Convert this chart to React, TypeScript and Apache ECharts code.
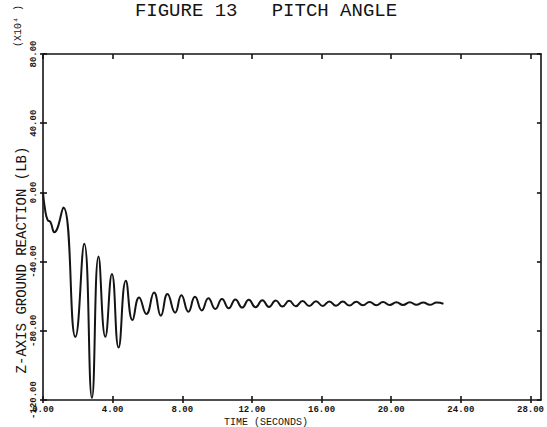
import React, { useEffect, useRef } from "react";
import * as echarts from "echarts";

const TITLE = "FIGURE 13   PITCH ANGLE";
const Y_NAME = "Z-AXIS GROUND REACTION (LB)";
const X_NAME = "TIME (SECONDS)";
const Y_SCALE = "(X10\u2074 )";

const X_TICKS = [0, 4, 8, 12, 16, 20, 24, 28];
const Y_TICKS = [-120, -80, -40, 0, 40, 80];

// Time (s) of each read-off point (extrema of the trace)
const TIME = [
  0.0, 0.12, 0.27, 0.42, 0.65, 1.17, 1.86, 2.37, 2.81, 3.19, 3.58, 3.96, 4.34,
  4.76, 5.14, 5.52, 5.94, 6.38, 6.77, 7.15, 7.59, 7.95, 8.35, 8.73, 9.12, 9.5,
  9.9, 10.28, 10.67, 11.05, 11.44, 11.82, 12.21, 12.6, 12.98, 13.37, 13.75,
  14.14, 14.52, 14.91, 15.29, 15.68, 16.06, 16.45, 16.83, 17.22, 17.6, 17.99,
  18.37, 18.76, 19.14, 19.53, 19.91, 20.3, 20.68, 21.07, 21.45, 21.84, 22.22,
  22.61, 23.0,
];
// Z-axis ground reaction (x10^4 LB)
const REACTION = [
  0, -10, -16, -17, -23, -8.7, -83.5, -29.7, -118.7, -37.1, -83.5, -47.1, -89.7,
  -51, -73.8, -60.7, -70.3, -57.8, -71.3, -58.7, -69.5, -59.5, -69, -60.3,
  -68.2, -61.2, -67.4, -61.6, -67, -61.9, -66.6, -62.1, -66.4, -62.3, -66.2,
  -62.5, -66, -62.7, -65.8, -62.8, -65.7, -62.9, -65.6, -63, -65.5, -63.1,
  -65.4, -63.2, -65.3, -63.3, -65.2, -63.4, -65.1, -63.5, -65.1, -63.5, -65,
  -63.6, -65, -63.7, -64.4,
];

const INK = "#141414";

export default function App() {
  const ref = useRef<HTMLDivElement>(null);
  useEffect(() => {
    if (!ref.current) return;
    const chart = echarts.init(ref.current, undefined, { renderer: "svg" });
    const data = TIME.map((t, i) => [t, REACTION[i]]);
    const lineStyle = { color: INK, width: 1.6 };
    const baseX = { type: "value", min: 0, max: 28.6, splitLine: { show: false } };
    const baseY = { type: "value", min: -120, max: 80, interval: 40, splitLine: { show: false } };
    const option: any = {
      animation: false,
      backgroundColor: "#ffffff",
      grid: { left: 43, right: 4, top: 54, bottom: 27, containLabel: false },
      xAxis: [
        {
          ...baseX,
          position: "bottom",
          axisLine: { show: true, onZero: false, lineStyle },
          axisTick: { show: true, inside: true, length: 4, customValues: X_TICKS, lineStyle },
          axisLabel: {
            show: true,
            customValues: X_TICKS,
            formatter: (v: number) => v.toFixed(2),
            margin: 5,
            fontFamily: "Liberation Mono",
            fontWeight: "bold",
            fontSize: 9,
            color: INK,
          },
        },
        {
          ...baseX,
          position: "bottom",
          axisLine: { show: false, onZero: false },
          axisTick: { show: true, inside: false, length: 3, customValues: X_TICKS, lineStyle },
          axisLabel: { show: false },
        },
        {
          ...baseX,
          position: "top",
          axisLine: { show: true, onZero: false, lineStyle },
          axisTick: { show: true, inside: true, length: 5, customValues: X_TICKS, lineStyle },
          axisLabel: { show: false },
        },
      ],
      yAxis: [
        {
          ...baseY,
          position: "left",
          axisLine: { show: true, onZero: false, lineStyle },
          axisTick: { show: true, inside: true, length: 4, customValues: Y_TICKS, lineStyle },
          axisLabel: {
            show: true,
            customValues: Y_TICKS,
            rotate: 90,
            formatter: (v: number) => v.toFixed(2),
            margin: 5,
            fontFamily: "Liberation Mono",
            fontWeight: "bold",
            fontSize: 9,
            color: INK,
          },
        },
        {
          ...baseY,
          position: "left",
          axisLine: { show: false, onZero: false },
          axisTick: { show: true, inside: false, length: 3, customValues: Y_TICKS, lineStyle },
          axisLabel: { show: false },
        },
        {
          ...baseY,
          position: "right",
          axisLine: { show: true, onZero: false, lineStyle },
          axisTick: { show: true, inside: true, length: 4, customValues: Y_TICKS, lineStyle },
          axisLabel: { show: false },
        },
      ],
      series: [
        {
          type: "line",
          xAxisIndex: 0,
          yAxisIndex: 0,
          data,
          showSymbol: false,
          smooth: 0.5,
          lineStyle: { color: INK, width: 2 },
        },
      ],
      graphic: [
        {
          type: "text",
          x: 266,
          y: 11,
          style: {
            text: TITLE,
            fill: INK,
            font: "19px 'Liberation Mono'",
            textAlign: "center",
            textVerticalAlign: "middle",
          },
        },
        {
          type: "text",
          x: 22,
          y: 260,
          rotation: Math.PI / 2,
          style: {
            text: Y_NAME,
            fill: INK,
            font: "14px 'Liberation Mono'",
            textAlign: "center",
            textVerticalAlign: "middle",
          },
        },
        {
          type: "text",
          x: 18,
          y: 26,
          rotation: Math.PI / 2,
          style: {
            text: Y_SCALE,
            fill: INK,
            font: "10px 'Liberation Mono'",
            textAlign: "center",
            textVerticalAlign: "middle",
          },
        },
        {
          type: "text",
          x: 266,
          y: 427,
          style: {
            text: X_NAME,
            fill: INK,
            font: "10px 'Liberation Mono'",
            textAlign: "center",
            textVerticalAlign: "bottom",
          },
        },
      ],
    };
    chart.setOption(option);
    return () => chart.dispose();
  }, []);
  return (
    <div
      ref={ref}
      style={{ position: "fixed", left: 0, top: 0, width: 547, height: 427, background: "#fff" }}
    />
  );
}
